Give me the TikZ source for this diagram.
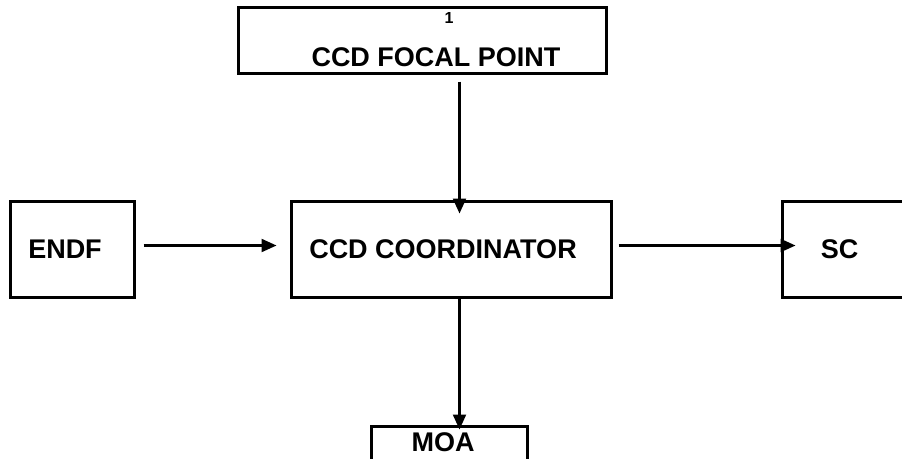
\documentclass[tikz,border=0pt]{standalone}
\usepackage{fontspec}
\setmainfont{Liberation Sans}
\usetikzlibrary{arrows.meta,positioning}
\tikzset{
  unitbox/.style={draw=black,line width=3pt,rectangle,inner sep=0pt},
  unitlabel/.style={inner sep=0pt,font=\fontsize{27}{31}\selectfont\bfseries},
  linkarrow/.style={-{Triangle[length=15pt,width=13pt]},line width=2.2pt,draw=black},
}

\begin{document}
\begin{tikzpicture}[x=1pt,y=-1pt]
  \clip (0,0) rectangle (902,458);
  \fill[white] (0,0) rectangle (902,458);
  % boxes
  \node[unitbox,minimum width=368pt,minimum height=66pt] (focal) at (422,40) {};
  \node[unitbox,minimum width=124pt,minimum height=96pt] (endf) at (72,249) {};
  \node[unitbox,minimum width=320pt,minimum height=96pt] (coord) at (451,249) {};
  \node[unitbox,minimum width=124pt,minimum height=96pt] (sc) at (844,249) {};
  \node[unitbox,minimum width=156pt,minimum height=60pt] (moa) at (449,456) {};
  % texts
  \node[inner sep=0pt,font=\fontsize{16}{18}\selectfont\bfseries] (focalnum) at (449,18) {1};
  \node[unitlabel] (focaltext) at (436,57) {CCD FOCAL POINT};
  \node[unitlabel] (endftext) at (65,249) {ENDF};
  \node[unitlabel] (coordtext) at (443,249) {CCD COORDINATOR};
  \node[unitlabel] (sctext) at (839.5,249) {SC};
  \node[unitlabel] (moatext) at (443,442) {MOA};
  % links
  \coordinate (ax) at (459.5,0);
  \coordinate (ay) at (0,245.5);
  \draw[linkarrow,shorten <=7pt,shorten >=-14pt] (focal.south -| ax) -- (coord.north -| ax);
  \draw[linkarrow,shorten <=0pt,shorten >=-5pt] (coord.south -| ax) -- (moa.north -| ax);
  \draw[linkarrow,shorten <=8pt,shorten >=13pt] (endf.east |- ay) -- (coord.west |- ay);
  \draw[linkarrow,shorten <=6pt,shorten >=-15pt] (coord.east |- ay) -- (sc.west |- ay);
\end{tikzpicture}
\end{document}
